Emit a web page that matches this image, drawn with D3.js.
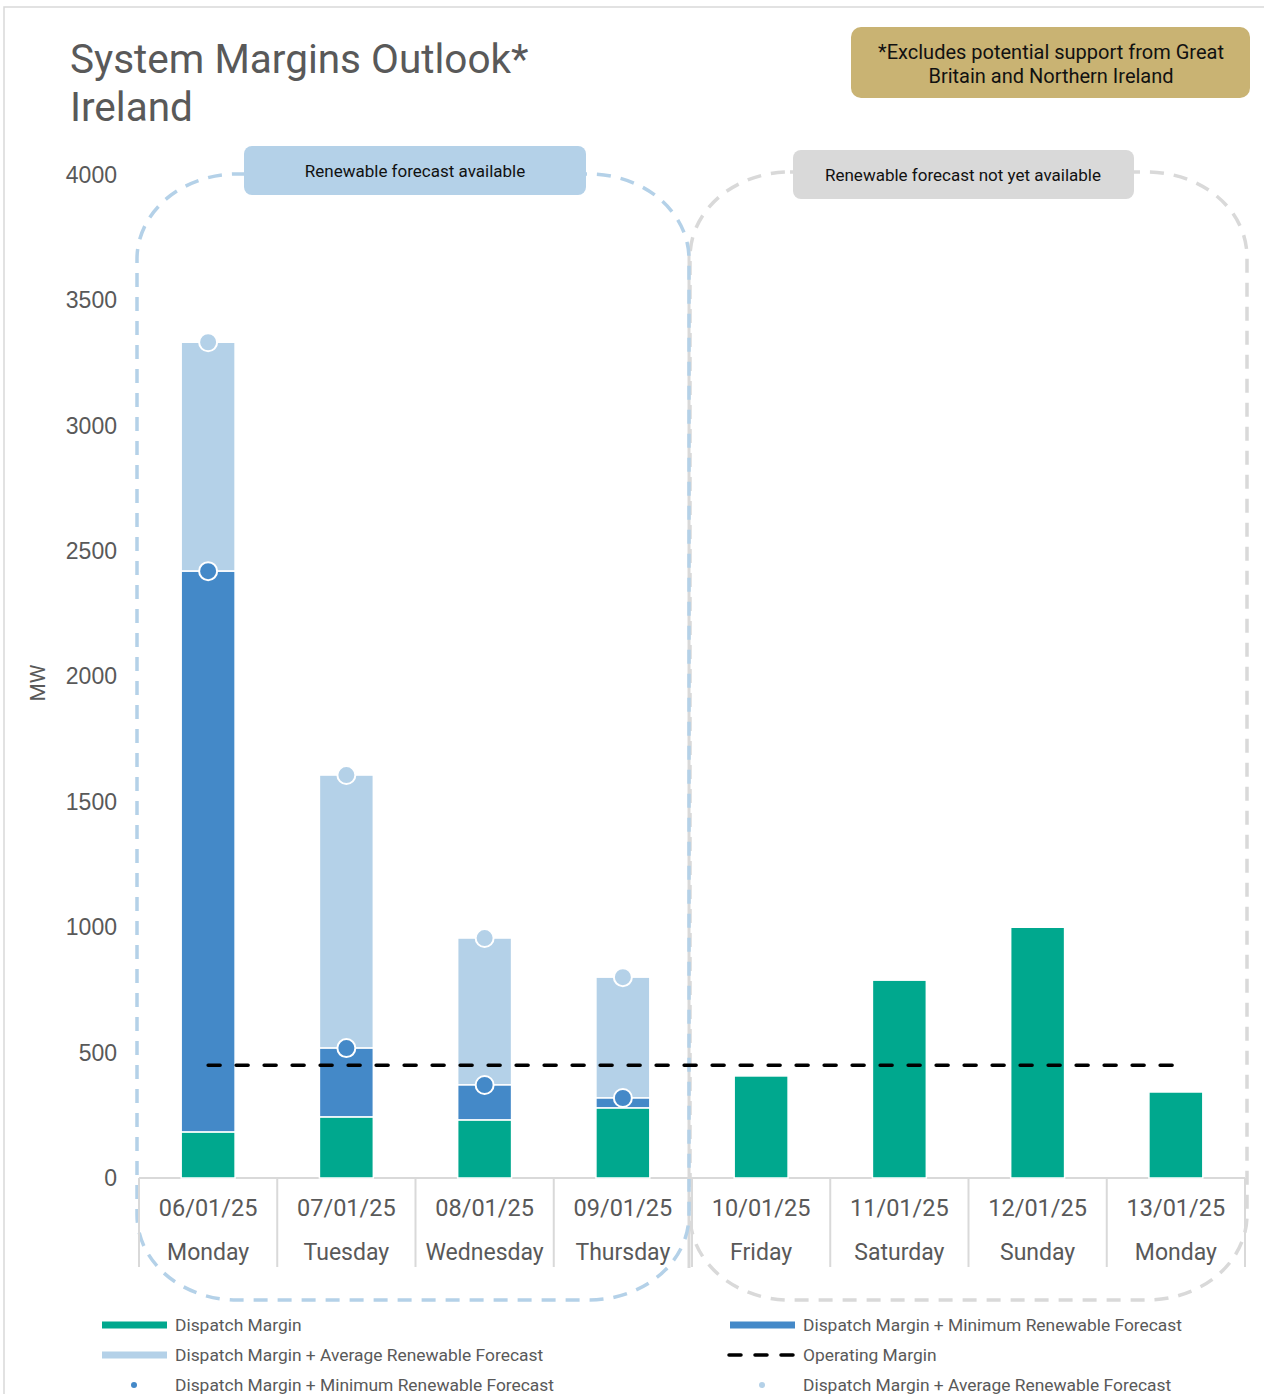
<!DOCTYPE html>
<html>
<head>
<meta charset="utf-8">
<script src="https://cdn.jsdelivr.net/npm/d3@7"></script>
<style>
  body { margin: 0; background: #fff; }
  text { font-family: Roboto, "Liberation Sans", sans-serif; }
</style>
</head>
<body>
<svg id="chart" width="1264" height="1394"></svg>
<script>
// data
const dates = ["06/01/25", "07/01/25", "08/01/25", "09/01/25", "10/01/25", "11/01/25", "12/01/25", "13/01/25"];
const days = ["Monday", "Tuesday", "Wednesday", "Thursday", "Friday", "Saturday", "Sunday", "Monday"];
const dispatchMargin = [183, 243, 231, 279, 407, 789, 1000, 343];
const dmPlusMinRenew = [2420, 518, 371, 319, null, null, null, null];
const dmPlusAvgRenew = [3333, 1607, 957, 801, null, null, null, null];
const operatingMargin = 450;
const yTicks = [0, 500, 1000, 1500, 2000, 2500, 3000, 3500, 4000];

const green = "#00a88e", darkBlue = "#4489c8", lightBlue = "#b4d1e8", grey = "#d9d9d9", txt = "#595959";

const svg = d3.select("#chart");

// outer frame
svg.append("rect").attr("x", 4).attr("y", 7).attr("width", 1300).attr("height", 1400)
  .attr("fill", "none").attr("stroke", grey).attr("stroke-width", 1.5);

let x = d3.scaleBand().domain(dates).range([139, 1245]).padding(0);
let y = d3.scaleLinear().domain([0, 4000]).range([1178, 175]);
let bw = x.bandwidth() * 0.39;

//#region forecast boxes
svg.append("line").attr("x1", 689).attr("x2", 689).attr("y1", 250).attr("y2", 1268)
  .attr("stroke", grey).attr("stroke-width", 3);
svg.append("rect").attr("x", 690).attr("y", 172).attr("width", 557).attr("height", 1128)
  .attr("rx", 100).attr("ry", 85)
  .attr("fill", "none").attr("stroke", grey).attr("stroke-width", 3.5).attr("stroke-dasharray", "14,10");
svg.append("rect").attr("x", 137).attr("y", 174).attr("width", 552).attr("height", 1126)
  .attr("rx", 100).attr("ry", 85)
  .attr("fill", "none").attr("stroke", lightBlue).attr("stroke-width", 3.5).attr("stroke-dasharray", "14,10");

svg.append("rect").attr("x", 244).attr("y", 146).attr("width", 342).attr("height", 49).attr("rx", 8)
  .attr("fill", lightBlue);
svg.append("text").attr("x", 415).attr("y", 171).attr("text-anchor", "middle").attr("dominant-baseline", "central")
  .attr("font-size", 17).attr("fill", "#111").text("Renewable forecast available");
svg.append("rect").attr("x", 793).attr("y", 150).attr("width", 341).attr("height", 49).attr("rx", 8)
  .attr("fill", grey);
svg.append("text").attr("x", 963).attr("y", 175).attr("text-anchor", "middle").attr("dominant-baseline", "central")
  .attr("font-size", 17).attr("fill", "#111").text("Renewable forecast not yet available");
//#endregion

// title + note
svg.append("text").attr("x", 70).attr("y", 73).attr("font-size", 40.5).attr("fill", txt).text("System Margins Outlook*");
svg.append("text").attr("x", 70).attr("y", 121).attr("font-size", 40.5).attr("fill", txt).text("Ireland");
svg.append("rect").attr("x", 851).attr("y", 27).attr("width", 399).attr("height", 71).attr("rx", 10).attr("fill", "#c9b373");
svg.append("text").attr("x", 1051).attr("y", 52).attr("text-anchor", "middle").attr("dominant-baseline", "central")
  .attr("font-size", 20).attr("fill", "#111").text("*Excludes potential support from Great");
svg.append("text").attr("x", 1051).attr("y", 76).attr("text-anchor", "middle").attr("dominant-baseline", "central")
  .attr("font-size", 20).attr("fill", "#111").text("Britain and Northern Ireland");

// y axis
let gy = svg.append("g").attr("transform", "translate(117,0)")
  .call(d3.axisLeft(y).tickValues(yTicks).tickFormat(d3.format("d")).tickSize(0).tickPadding(0));
gy.select(".domain").remove();
gy.selectAll("text").attr("font-size", 23).attr("fill", txt)
  .style("font-family", "'Liberation Sans', Arial, sans-serif");
svg.append("text").attr("transform", "translate(38,683) rotate(-90)").attr("text-anchor", "middle")
  .attr("dominant-baseline", "central").attr("font-size", 21).attr("fill", txt).text("MW");

// x axis
svg.append("line").attr("x1", 139).attr("x2", 1245).attr("y1", 1178).attr("y2", 1178)
  .attr("stroke", grey).attr("stroke-width", 2);
svg.selectAll(".sep").data(dates.concat(["end"])).join("line")
  .attr("class", "sep")
  .attr("x1", (d, i) => i < dates.length ? x(d) : x(dates[dates.length - 1]) + x.bandwidth())
  .attr("x2", (d, i) => i < dates.length ? x(d) : x(dates[dates.length - 1]) + x.bandwidth())
  .attr("y1", 1178).attr("y2", 1267).attr("stroke", grey).attr("stroke-width", 2);
svg.selectAll(".dlab").data(dates).join("text").attr("class", "dlab")
  .attr("x", d => x(d) + x.bandwidth() / 2).attr("y", 1208).attr("text-anchor", "middle")
  .attr("dominant-baseline", "central").attr("font-size", 23.5).attr("fill", txt).text(d => d);
svg.selectAll(".wlab").data(days).join("text").attr("class", "wlab")
  .attr("x", (d, i) => x(dates[i]) + x.bandwidth() / 2).attr("y", 1252).attr("text-anchor", "middle")
  .attr("dominant-baseline", "central").attr("font-size", 23).attr("fill", txt).text(d => d);

// bars
const rows = dates.map((d, i) => ({ date: d, dm: dispatchMargin[i], mn: dmPlusMinRenew[i], av: dmPlusAvgRenew[i] }));
let gBars = svg.append("g");
gBars.selectAll(".avg").data(rows.filter(r => r.av != null)).join("rect").attr("class", "avg")
  .attr("x", d => x(d.date) + (x.bandwidth() - bw) / 2).attr("width", bw)
  .attr("y", d => y(d.av)).attr("height", d => y(d.mn) - y(d.av))
  .attr("fill", lightBlue).attr("stroke", "#fff").attr("stroke-width", 1.5);
gBars.selectAll(".min").data(rows.filter(r => r.mn != null)).join("rect").attr("class", "min")
  .attr("x", d => x(d.date) + (x.bandwidth() - bw) / 2).attr("width", bw)
  .attr("y", d => y(d.mn)).attr("height", d => y(d.dm) - y(d.mn))
  .attr("fill", darkBlue).attr("stroke", "#fff").attr("stroke-width", 1.5);
gBars.selectAll(".dm").data(rows).join("rect").attr("class", "dm")
  .attr("x", d => x(d.date) + (x.bandwidth() - bw) / 2).attr("width", bw)
  .attr("y", d => y(d.dm)).attr("height", d => y(0) - y(d.dm))
  .attr("fill", green).attr("stroke", "#fff").attr("stroke-width", 1.5);

// operating margin
svg.append("line")
  .attr("x1", x(dates[0]) + x.bandwidth() / 2).attr("x2", x(dates[dates.length - 1]) + x.bandwidth() / 2)
  .attr("y1", y(operatingMargin)).attr("y2", y(operatingMargin))
  .attr("stroke", "#000").attr("stroke-width", 3.5).attr("stroke-dasharray", "12,16").attr("stroke-linecap", "round");

// dots
gBars.selectAll(".dotAvg").data(rows.filter(r => r.av != null)).join("circle").attr("class", "dotAvg")
  .attr("cx", d => x(d.date) + x.bandwidth() / 2).attr("cy", d => y(d.av)).attr("r", 9)
  .attr("fill", lightBlue).attr("stroke", "#fff").attr("stroke-width", 2);
gBars.selectAll(".dotMin").data(rows.filter(r => r.mn != null)).join("circle").attr("class", "dotMin")
  .attr("cx", d => x(d.date) + x.bandwidth() / 2).attr("cy", d => y(d.mn)).attr("r", 9)
  .attr("fill", darkBlue).attr("stroke", "#fff").attr("stroke-width", 2);

//#region legend
const legend = [
  { x: 102, y: 1325, label: "Dispatch Margin", type: "bar", color: green },
  { x: 102, y: 1355, label: "Dispatch Margin + Average Renewable Forecast", type: "bar", color: lightBlue },
  { x: 102, y: 1385, label: "Dispatch Margin + Minimum Renewable Forecast", type: "dot", color: darkBlue },
  { x: 730, y: 1325, label: "Dispatch Margin + Minimum Renewable Forecast", type: "bar", color: darkBlue },
  { x: 730, y: 1355, label: "Operating Margin", type: "dash", color: "#000" },
  { x: 730, y: 1385, label: "Dispatch Margin + Average Renewable Forecast", type: "dot", color: lightBlue }
];
let lg = svg.append("g").selectAll("g").data(legend).join("g").attr("transform", d => `translate(${d.x},${d.y})`);
lg.filter(d => d.type === "bar").append("line").attr("x1", 0).attr("x2", 65)
  .attr("stroke", d => d.color).attr("stroke-width", 7);
lg.filter(d => d.type === "dash").append("line").attr("x1", -1).attr("x2", 65)
  .attr("stroke", "#000").attr("stroke-width", 3.5).attr("stroke-dasharray", "12,14").attr("stroke-linecap", "round");
lg.filter(d => d.type === "dot").append("circle").attr("cx", 32).attr("r", 3).attr("fill", d => d.color);
lg.append("text").attr("x", 73).attr("dominant-baseline", "central").attr("font-size", 17.4)
  .attr("fill", txt).text(d => d.label);
//#endregion
</script>
</body>
</html>
